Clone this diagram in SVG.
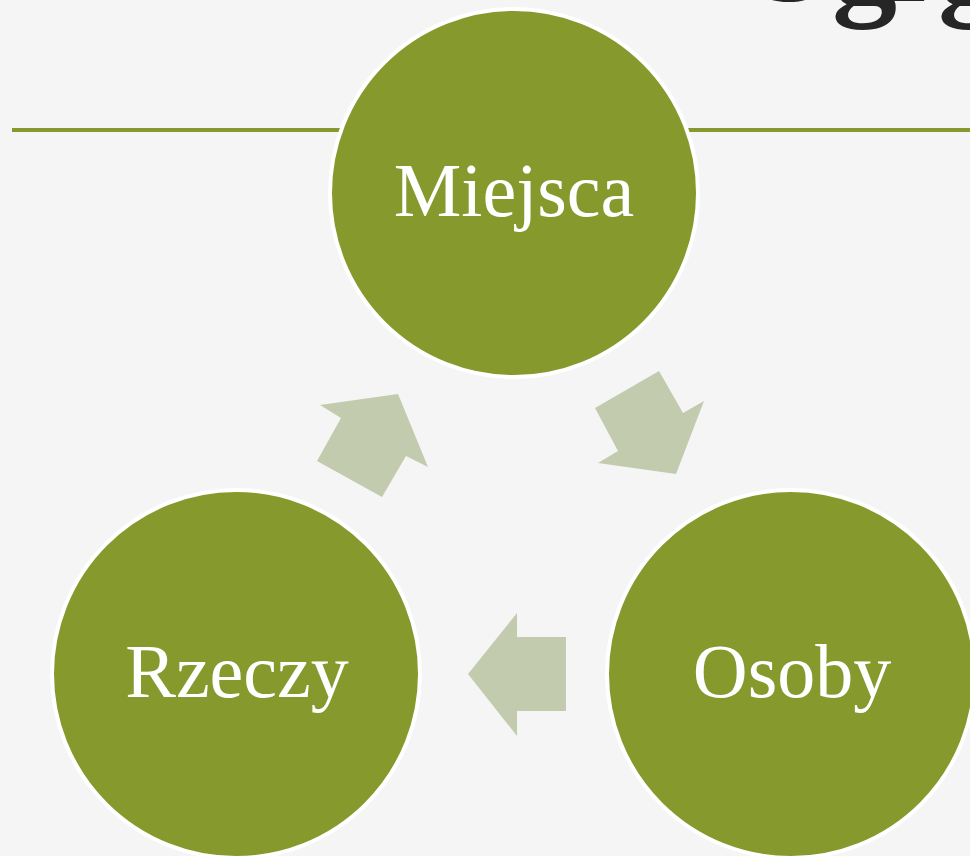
<svg xmlns="http://www.w3.org/2000/svg" width="970" height="856" viewBox="0 0 970 856">
<style>
.node{fill:#86992d;stroke:#ffffff;stroke-width:4}
.lbl{fill:#ffffff;font-family:"Liberation Serif","DejaVu Serif",serif;font-size:76px;text-anchor:middle}
.arrow{fill:#c3cbaf}
.title{fill:#262626;font-family:"Liberation Serif","DejaVu Serif",serif;font-weight:bold;font-size:130px}
</style>
<rect width="970" height="856" fill="#f5f5f5"/>
<text class="title" x="738 832 885 938" y="1">Ogrg</text>
<line x1="12" y1="130" x2="970" y2="130" stroke="#86992d" stroke-width="4"/>
<g id="connectors">
<polygon class="arrow" points="659,371 683,413 704,401 676,474 598,463 618,451 595,408"/>
<polygon class="arrow" points="468,674 517,613 517,637 566,637 566,711 517,711 517,736"/>
<polygon class="arrow" points="398,394 428,467 406,456 382,497 317,461 341,418 320,405"/>
</g>
<g id="miejsca">
<circle class="node" cx="514" cy="193" r="184"/>
<text class="lbl" x="514" y="216">Miejsca</text>
</g>
<g id="rzeczy">
<circle class="node" cx="236" cy="674" r="184"/>
<text class="lbl" x="237" y="697">Rzeczy</text>
</g>
<g id="osoby">
<circle class="node" cx="791" cy="674" r="184"/>
<text class="lbl" x="792" y="697">Osoby</text>
</g>
</svg>
